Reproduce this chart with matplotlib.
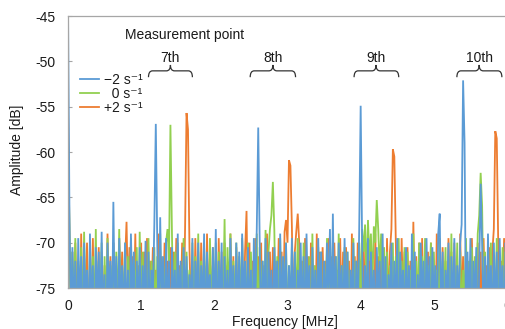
import numpy as np
import matplotlib
matplotlib.use('Agg')
import matplotlib.pyplot as plt
from matplotlib.path import Path
from matplotlib.patches import PathPatch

plt.rcParams['font.family'] = ['Liberation Sans', 'DejaVu Sans']
plt.rcParams['axes.unicode_minus'] = False

# spectrum samples, 0 to 6 MHz, 0.02 MHz apart
blue = [-44, -67, -80, -70.5, -78, -72, -82, -69.5, -77, -71.5,
        -83, -70, -76.5, -73, -81, -69, -78, -72.5, -84, -70.5,
        -77, -71, -80, -68.8, -79, -73.5, -82, -70, -76, -72,
        -81, -65.5, -78, -71.5, -83, -69.5, -77.5, -72.5, -80, -70,
        -79, -73, -82, -69, -76.5, -71, -84, -72, -78, -70.5,
        -81, -72.5, -77, -69.8, -83, -71, -79, -73, -76, -68,
        -56.9, -70, -80, -67.2, -77, -71.5, -82, -69.5, -78.5, -72,
        -84, -70.5, -77, -73, -80, -69, -79, -72, -83, -70.5,
        -76.5, -71.5, -81, -73.5, -78, -69.5, -84, -72, -77, -70,
        -80, -72.5, -78, -69, -82, -71, -76, -73.5, -83, -70.5,
        -79, -68.5, -81, -72, -77, -70, -84, -71.5, -78, -73,
        -80, -69.5, -77, -72.5, -82, -70, -79, -71, -83, -69,
        -76.5, -72, -80, -70.5, -78, -73, -82, -69.5, -77, -68.5,
        -57.3, -70, -81, -72, -78, -69.5, -83, -71, -77, -73,
        -80, -70.5, -76, -72, -84, -69, -79, -71.5, -77, -70,
        -82, -72.5, -78, -69.5, -80, -71, -83, -73, -76.5, -70,
        -79, -71.5, -81, -69, -77, -72.5, -84, -70.5, -78, -73,
        -80, -69.5, -77.5, -71, -82, -72, -79, -70, -76, -68.5,
        -81, -66.8, -78, -71.5, -83, -70, -77, -72.5, -80, -69.5,
        -78, -71, -82, -73, -77, -70, -84, -72, -79, -68.5,
        -54.9, -70, -81, -72.5, -78, -69.5, -83, -71, -77, -73,
        -80, -70.5, -76.5, -72, -84, -69, -79, -71.5, -82, -73.5,
        -77, -70, -81, -72, -78, -69.5, -83, -71, -76, -73,
        -80, -70.5, -78, -72.5, -84, -69, -77, -71, -82, -73.5,
        -79, -70, -76.5, -72, -81, -69.5, -78, -71.5, -83, -70.5,
        -77, -72.5, -80, -69, -66.8, -79, -71, -82, -73, -76.5,
        -70, -84, -71.5, -78, -69.5, -81, -72.5, -77, -70, -68,
        -52.1, -59, -80, -71, -78, -69.5, -83, -72, -77, -70.5,
        -81, -73, -63.5, -70, -79, -71.5, -82, -69, -77, -72.5,
        -80, -70, -78, -71, -84, -69.5, -76.5, -72.5, -81, -70,
        -73]
green = [-58, -68.5, -79, -71, -77, -69.5, -82, -72, -76, -70.5,
         -80, -68.8, -78, -73, -83, -70, -77, -71.5, -79, -68.5,
         -81, -72, -77, -70, -84, -71.5, -78, -69.5, -80, -72.5,
         -76, -70, -82, -71, -78, -68.5, -79, -73, -77, -70,
         -83, -71.5, -78, -69.5, -80, -72, -76.5, -70.5, -82, -68.8,
         -77, -71, -79, -73, -81, -69.5, -78, -72, -76, -70.5,
         -80, -71.5, -77, -69, -83, -72.5, -78, -70, -68.5, -72,
         -57, -68.5, -79, -71, -77, -70, -82, -72.5, -78, -69.5,
         -80, -71, -76.5, -73, -84, -70, -77, -71.5, -79, -69,
         -81, -72, -78, -70.5, -76, -71.5, -83, -69.5, -77, -72.5,
         -80, -70, -78, -71, -82, -73, -77, -67.4, -79, -70.5,
         -76, -69, -81, -72, -78, -70, -83, -71.5, -77, -69.5,
         -80, -72.5, -78, -70, -84, -71, -76.5, -73, -79, -69,
         -82, -70.5, -77, -72, -80, -68.6, -78, -71, -68.5, -67,
         -63.3, -68.6, -79, -71.5, -77, -69.5, -82, -72, -76, -70,
         -80, -72.5, -78, -70.5, -83, -71, -77, -69.5, -79, -72,
         -81, -70, -76.5, -73, -78, -71.5, -84, -69, -77, -72.5,
         -80, -70.5, -78, -71, -82, -73, -77, -69.5, -79, -72,
         -76, -70, -81, -71.5, -78, -69, -83, -72.5, -77, -70.5,
         -80, -71, -78, -73, -84, -69.5, -77, -72, -79, -70,
         -76.5, -68.5, -71, -68, -74, -67.5, -72, -69, -75, -68.2,
         -70, -65.3, -68.5, -73, -69, -76, -70.5, -78, -71, -80,
         -72.5, -77, -70, -82, -71.5, -78, -69.5, -80, -72, -76,
         -70.5, -83, -71, -77, -73, -79, -69, -81, -72, -78,
         -70, -84, -71.5, -76.5, -69.5, -80, -72.5, -78, -70, -82,
         -71, -77, -73, -79, -69.5, -81, -72, -76, -70.5, -83,
         -71.5, -78, -69, -80, -72.5, -77, -70, -82, -71, -79,
         -73, -76.5, -69.5, -81, -72, -78, -70.5, -83, -71.5, -77,
         -69, -67, -62.3, -66, -78, -71, -80, -72.5, -76, -70,
         -82, -71.5, -78, -69.5, -80, -72, -77, -70.5, -83, -71,
         -78]
orange = [-55, -69.5, -78, -71, -81, -70, -77, -72.5, -83, -69,
          -79, -71.5, -76.5, -70, -82, -72, -78, -69.5, -80, -73,
          -77, -70.5, -84, -71, -78, -72.5, -81, -69, -76, -71.5,
          -80, -70, -78, -73, -83, -69.5, -77, -71, -79, -72,
          -67.7, -76, -70.5, -82, -71.5, -78, -69, -80, -72.5, -77,
          -70, -83, -71, -78, -69.5, -81, -72, -76.5, -70.5, -79,
          -73, -77, -69, -82, -71.5, -78, -70, -84, -72, -76,
          -70.5, -80, -71, -78, -69.5, -83, -72.5, -77, -70, -79,
          -68.5, -55.7, -57.5, -70.5, -78, -72, -81, -69.5, -77, -71,
          -80, -70, -76.5, -72.5, -83, -69, -78, -71.5, -80, -70.5,
          -77, -72, -82, -69.5, -78, -71, -84, -70, -76, -72.5,
          -81, -69, -78, -71.5, -80, -70.5, -77, -73, -83, -69.5,
          -78, -71, -66.5, -79, -70, -82, -72, -77, -69.5, -80,
          -71.5, -78, -70, -83, -72.5, -76.5, -69, -81, -71, -78,
          -70.5, -84, -72, -77, -69.5, -80, -71, -78, -68.8, -67.5,
          -70, -60.9, -61.5, -68.2, -79, -71, -68.8, -66.8, -70, -77,
          -72, -81, -69.5, -78, -71.5, -83, -70, -77, -72.5, -80,
          -69, -78, -71, -82, -70.5, -76.5, -72, -84, -69.5, -78,
          -71.5, -80, -70, -77, -73, -83, -69.5, -78, -71, -81,
          -70.5, -76, -72, -82, -69, -78, -71.5, -80, -70, -77,
          -72.5, -83, -69.5, -78, -71, -81, -70.5, -76.5, -72, -84,
          -69, -78, -71.5, -80, -70, -77, -73, -82, -69.5, -78,
          -71, -68.5, -59.7, -60.5, -70, -79, -72, -81, -69.5, -77,
          -71, -83, -70.5, -78, -72, -80, -67.7, -77, -71.5, -82,
          -70, -78, -69.5, -84, -72.5, -76.5, -71, -80, -70, -78,
          -73, -81, -69, -77, -71.5, -83, -70.5, -78, -72, -80,
          -69.5, -76, -71, -82, -70, -78, -72.5, -84, -69, -77,
          -71.5, -80, -70.5, -78, -73, -81, -69.5, -77, -72, -83,
          -70, -78, -71, -80, -69.5, -76.5, -72.5, -82, -70.5, -78,
          -71, -68.5, -57.7, -58.5, -70, -80, -72, -77, -69.5, -81,
          -71]

series_labels = ['\u22122 s\u207b\u00b9', '  0 s\u207b\u00b9', '+2 s\u207b\u00b9']
colors = ['#5B9BD5', '#92D050', '#ED7D31']

points = ['7th', '8th', '9th', '10th']
point_centers = [1.40, 2.80, 4.21, 5.62]
point_spans = [(1.10, 1.70), (2.49, 3.11), (3.91, 4.52), (5.315, 5.93)]

fig = plt.figure(figsize=(5.05, 3.29), dpi=100)
ax = fig.add_axes([68 / 505, 41 / 329, 439 / 505, 272 / 329])

lines = {}
for name, vals, col in [('orange', orange, colors[2]), ('green', green, colors[1]), ('blue', blue, colors[0])]:
    f = np.linspace(0, 6, len(vals))
    lines[name], = ax.plot(f, vals, color=col, lw=1.3, solid_joinstyle='miter')

ax.set_xlim(0, 6)
ax.set_ylim(-75, -45)
ax.set_xticks(range(0, 7))
ax.set_yticks(range(-75, -44, 5))
for s in ax.spines.values():
    s.set_color('#A6A6A6')
    s.set_linewidth(0.9)
ax.tick_params(axis='both', direction='in', length=3, color='#A6A6A6',
               labelsize=10, labelcolor='#1a1a1a')
ax.tick_params(axis='y', pad=9)
ax.tick_params(axis='x', pad=8, length=0)

ax.set_xlabel('Frequency [MHz]', fontsize=10, color='#1a1a1a')
ax.set_ylabel('Amplitude [dB]', fontsize=10, color='#1a1a1a')
ax.xaxis.set_label_coords(0.494, -0.098)
ax.yaxis.set_label_coords(-0.10, 0.507)

leg = ax.legend([lines['blue'], lines['green'], lines['orange']], series_labels,
                loc='upper left', bbox_to_anchor=(0.005, 0.828), frameon=False,
                fontsize=10, handlelength=1.4, handletextpad=0.35,
                labelspacing=0.0, borderaxespad=0.3)
for t in leg.get_texts():
    t.set_color('#1a1a1a')

ax.text(0.78, -47.1, 'Measurement point', fontsize=10, ha='left', va='center', color='#1a1a1a')

# curly braces above each measurement point
yl, yb, yt = -51.05, -51.75, -50.4
dx = 0.055
for lab, xc, (x0, x1) in zip(points, point_centers, point_spans):
    verts = [(x0, yb), (x0, yl), (x0 + dx, yl), (xc - dx, yl), (xc, yl), (xc, yt),
             (xc, yl), (xc + dx, yl), (x1 - dx, yl), (x1, yl), (x1, yb)]
    codes = [Path.MOVETO, Path.CURVE3, Path.CURVE3, Path.LINETO, Path.CURVE3, Path.CURVE3,
             Path.CURVE3, Path.CURVE3, Path.LINETO, Path.CURVE3, Path.CURVE3]
    ax.add_patch(PathPatch(Path(verts, codes), fill=False, lw=0.9, ec='#333333'))
    ax.text(xc, -49.6, lab, fontsize=10, ha='center', va='center', color='#1a1a1a')

fig.savefig('out.png', dpi=100)
